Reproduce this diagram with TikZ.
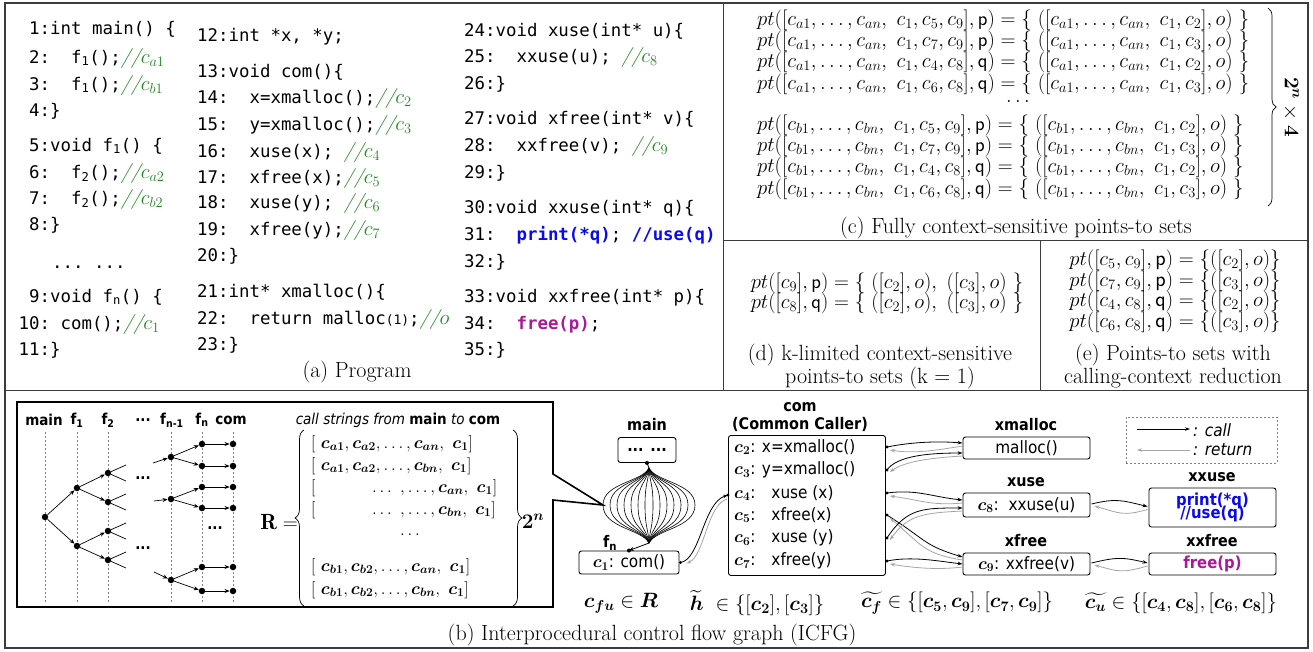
\documentclass[tikz,border=0pt]{standalone}
\usepackage{amsmath}
\usepackage{bm}
\usepackage{fontspec}
\setmonofont{DejaVu Sans Mono}
\newfontfamily\sansf{DejaVu Sans}[FakeStretch=0.9]
\usetikzlibrary{arrows.meta,decorations.pathreplacing,calc}
\definecolor{cgreen}{RGB}{30,135,30}
\definecolor{cblue}{RGB}{10,10,240}
\definecolor{cmag}{RGB}{170,25,150}
\definecolor{cgray}{RGB}{165,165,165}
\definecolor{framec}{RGB}{60,60,60}
\newcommand{\codefont}{\fontsize{17.4}{17.4}\selectfont\ttfamily}
\newcommand{\capfont}{\fontsize{22}{22}\selectfont\rmfamily}
\newcommand{\mathfont}{\fontsize{20}{20}\selectfont}
\newcommand{\gcm}[1]{{\color{cgreen}\fontsize{20}{20}\selectfont\rmfamily\itshape//$c_{#1}$}}
\newcommand{\ptrow}[5]{$pt([c_{#11},\ldots,c_{#1n},\ c_1,c_{#2},c_{#3}],\mathsf{#4})=\{\ ([c_{#11},\ldots,c_{#1n},\ c_1,c_{#5}],o)\ \}$}
\begin{document}
\begin{tikzpicture}[x=1pt,y=-1pt,
  codeln/.style={anchor=base west,inner sep=0pt,font=\codefont},
  capt/.style={font=\capfont,inner sep=0pt},
  mrow/.style={font=\mathfont,inner sep=0pt},
  tdot/.style={circle,fill,inner sep=0pt,minimum size=6.5pt},
  tar/.style={-{Stealth[length=5pt,width=4pt]},line width=0.7pt},
  dline/.style={gray,line width=0.5pt,dash pattern=on 2pt off 2pt},
  fbox/.style={draw,rounded corners=2.5pt,line width=0.9pt,inner sep=0pt},
  lbl/.style={font=\sansf\bfseries\fontsize{16}{16}\selectfont,inner sep=0pt},
  btxt/.style={font=\sansf\fontsize{17}{17}\selectfont,inner sep=0pt},
  callar/.style={-{Stealth[length=5pt,width=3.5pt]},line width=0.8pt},
  retar/.style={-{Stealth[length=5pt,width=3.5pt]},line width=0.8pt,cgray},
  hdr/.style={font=\sansf\bfseries\fontsize{15}{15}\selectfont,inner sep=0pt},
  rrow/.style={font=\fontsize{18}{18}\selectfont,inner sep=0pt,anchor=west},
  fml/.style={font=\fontsize{20}{20}\selectfont,inner sep=0pt}]
\useasboundingbox (0,0) rectangle (1313,651);
% frames
\draw[framec,line width=1.3pt] (5,3) rectangle (1308,648);
\draw[framec,line width=1pt] (723,3) -- (723,390);
\draw[framec,line width=1pt] (5,390) -- (1308,390);
\draw[framec,line width=1pt] (723,240) -- (1308,240);
\draw[framec,line width=1pt] (1040,240) -- (1040,390);
% (a) program column 1
\node[codeln] (l1) at (29,34) {1:int main() \{};
\node[codeln] (l2) at (29,63) {2:~~f\textsubscript{1}();\gcm{a1}};
\node[codeln] (l3) at (29,90) {3:~~f\textsubscript{1}();\gcm{b1}};
\node[codeln] (l4) at (29,116) {4:\}};
\node[codeln] (l5) at (29,151) {5:void f\textsubscript{1}() \{};
\node[codeln] (l6) at (29,178) {6:~~f\textsubscript{2}();\gcm{a2}};
\node[codeln] (l7) at (29,204) {7:~~f\textsubscript{2}();\gcm{b2}};
\node[codeln] (l8) at (29,230) {8:\}};
\node[codeln] (ldots) at (52,268) {...~...};
\node[codeln] (l9) at (29,302) {9:void f\textsubscript{n}() \{};
\node[codeln] (l10) at (18.5,329) {10:~com();\gcm{1}};
\node[codeln] (l11) at (18.5,355) {11:\}};
% column 2
\node[codeln] (l12) at (197,41) {12:int *x, *y;};
\node[codeln] (l13) at (197,77) {13:void com()\{};
\node[codeln] (l14) at (197,103) {14:~~x=xmalloc();\gcm{2}};
\node[codeln] (l15) at (197,130) {15:~~y=xmalloc();\gcm{3}};
\node[codeln] (l16) at (197,157) {16:~~xuse(x);~\gcm{4}};
\node[codeln] (l17) at (197,183) {17:~~xfree(x);\gcm{5}};
\node[codeln] (l18) at (197,208) {18:~~xuse(y);~\gcm{6}};
\node[codeln] (l19) at (197,235) {19:~~xfree(y);\gcm{7}};
\node[codeln] (l20) at (197,261) {20:\}};
\node[codeln] (l21) at (197,297) {21:int* xmalloc()\{};
\node[codeln] (l22) at (197,324) {22:~~return malloc{\fontsize{13}{13}\selectfont(1)};{\color{cgreen}\fontsize{20}{20}\selectfont\rmfamily\itshape//$o$}};
\node[codeln] (l23) at (197,350) {23:\}};
% column 3
\node[codeln] (l24) at (464,36) {24:void xuse(int* u)\{};
\node[codeln] (l25) at (464,62) {25:~~xxuse(u);~\gcm{8}};
\node[codeln] (l26) at (464,89) {26:\}};
\node[codeln] (l27) at (464,124) {27:void xfree(int* v)\{};
\node[codeln] (l28) at (464,151) {28:~~xxfree(v);~\gcm{9}};
\node[codeln] (l29) at (464,178) {29:\}};
\node[codeln] (l30) at (464,213) {30:void xxuse(int* q)\{};
\node[codeln] (l31) at (464,240) {31:~~{\bfseries\color{cblue}print(*q)};~{\bfseries\color{cblue}//use(q)}};
\node[codeln] (l32) at (464,267) {32:\}};
\node[codeln] (l33) at (464,302) {33:void xxfree(int* p)\{};
\node[codeln] (l34) at (464,329) {34:~~{\bfseries\color{cmag}free(p)};};
\node[codeln] (l35) at (464,355) {35:\}};
\node[capt] (capa) at (357,372) {(a) Program};
% (c)
\node[mrow,anchor=west] (c1r) at (757,20) {\ptrow{a}{5}{9}{p}{2}};
\node[mrow,anchor=west] (c2r) at (757,41) {\ptrow{a}{7}{9}{p}{3}};
\node[mrow,anchor=west] (c3r) at (757,62) {\ptrow{a}{4}{8}{q}{2}};
\node[mrow,anchor=west] (c4r) at (757,84) {\ptrow{a}{6}{8}{q}{3}};
\node[mrow] (cdots) at (1018,101) {$\ldots$};
\node[mrow,anchor=west] (c5r) at (757,125) {\ptrow{b}{5}{9}{p}{2}};
\node[mrow,anchor=west] (c6r) at (757,146) {\ptrow{b}{7}{9}{p}{3}};
\node[mrow,anchor=west] (c7r) at (757,167) {\ptrow{b}{4}{8}{q}{2}};
\node[mrow,anchor=west] (c8r) at (757,189) {\ptrow{b}{6}{8}{q}{3}};
\coordinate (cbt) at (1268,8);
\coordinate (cbb) at (1268,206);
\draw[line width=0.7pt,decorate,decoration={brace,amplitude=8pt}] (cbt) -- (cbb);
\node[mrow,rotate=-90] (cmul) at (1291,107) {$\bm{2^n}\times\bm{4}$};
\node[capt] (capc) at (1016,228) {(c) Fully context-sensitive points-to sets};
% (d)
\node[mrow] (d1r) at (887,283) {$pt([c_9],\mathsf{p})=\{\ ([c_2],o),\ ([c_3],o)\ \}$};
\node[mrow] (d2r) at (887,303) {$pt([c_8],\mathsf{q})=\{\ ([c_2],o),\ ([c_3],o)\ \}$};
\node[capt] (capd1) at (880,355) {(d) k-limited context-sensitive};
\node[capt] (capd2) at (880,378) {points-to sets (k = 1)};
% (e)
\node[mrow,font=\fontsize{21.5}{21.5}\selectfont] (e1r) at (1175,260) {$pt([c_5,c_9],\mathsf{p})=\{([c_2],o)\}$};
\node[mrow,font=\fontsize{21.5}{21.5}\selectfont] (e2r) at (1175,281) {$pt([c_7,c_9],\mathsf{p})=\{([c_3],o)\}$};
\node[mrow,font=\fontsize{21.5}{21.5}\selectfont] (e3r) at (1175,301) {$pt([c_4,c_8],\mathsf{q})=\{([c_2],o)\}$};
\node[mrow,font=\fontsize{21.5}{21.5}\selectfont] (e4r) at (1175,322) {$pt([c_6,c_8],\mathsf{q})=\{([c_3],o)\}$};
\node[capt] (cape1) at (1173,355) {(e) Points-to sets with};
\node[capt] (cape2) at (1173,378) {calling-context reduction};
% (b) caption
\node[capt] (capb) at (652,635) {(b) Interprocedural control flow graph (ICFG)};
% inner callout box
\coordinate (fanw) at (603,505);
\draw[line width=1.6pt,line join=miter] (553,474) -- (553,402) -- (17,402) -- (17,607) -- (553,607) -- (553,500) -- (fanw) -- cycle;
% tree header
\node[hdr] (hmain) at (44,420) {main};
\node[hdr] (hf1) at (77,420) {f\textsubscript{1}};
\node[hdr] (hf2) at (108,420) {f\textsubscript{2}};
\node[hdr] (hdots) at (143,420) {...};
\node[hdr] (hfn1) at (172,420) {f\textsubscript{n-1}};
\node[hdr] (hfn) at (202,420) {f\textsubscript{n}};
\node[hdr] (hcom) at (231,420) {com};
\foreach \x in {45,77,108,171,202,233} \draw[dline] (\x,432) -- (\x,603);
\node[tdot] (m) at (45,517) {};
\node[tdot] (a1) at (77,488) {};
\node[tdot] (a2) at (77,546) {};
\node[tdot] (b1) at (108,473) {};
\node[tdot] (b2) at (108,502) {};
\node[tdot] (b3) at (108,531) {};
\node[tdot] (b4) at (108,560) {};
\node[tdot] (d1) at (171,457) {};
\node[tdot] (d2) at (171,499) {};
\node[tdot] (d3) at (171,580) {};
\foreach \i/\y in {1/444,2/466,3/487,4/508,5/567,6/591}{
  \node[tdot] (e\i) at (202,\y) {};
  \node[tdot] (g\i) at (233,\y) {};
  \draw[tar] (e\i) -- (g\i);
}
\draw[tar] (m) -- (a1); \draw[tar] (m) -- (a2);
\draw[tar] (a1) -- (b1); \draw[tar] (a1) -- (b2);
\draw[tar] (a2) -- (b3); \draw[tar] (a2) -- (b4);
\foreach \b in {b1,b2,b3,b4}{
  \draw[line width=0.7pt] (\b) -- ++(18,-8);
  \draw[line width=0.7pt] (\b) -- ++(18,8);
}
\coordinate (s1) at (153,463);
\coordinate (s2) at (154,501);
\coordinate (s3) at (154,572);
\draw[tar] (s1) -- (d1); \draw[tar] (s2) -- (d2); \draw[tar] (s3) -- (d3);
\draw[tar] (d1) -- (e1); \draw[tar] (d1) -- (e2);
\draw[tar] (d2) -- (e3); \draw[tar] (d2) -- (e4);
\draw[tar] (d3) -- (e5); \draw[tar] (d3) -- (e6);
\node[hdr] (td1) at (143,478) {...};
\node[hdr] (td2) at (143,548) {...};
\node[hdr] (td3) at (215,528) {...};
% call strings
\node[font=\sansf\itshape\fontsize{15}{15}\selectfont,inner sep=0pt] (cstr) at (398,420) {call strings from \textbf{\upshape main} to \textbf{\upshape com}};
\node[font=\fontsize{22}{22}\selectfont,inner sep=0pt] (req) at (279,522) {$\mathbf{R}=$};
\coordinate (lbb) at (304,606);
\coordinate (lbt) at (304,430);
\draw[line width=0.7pt,decorate,decoration={brace,amplitude=9pt}] (lbb) -- (lbt);
\coordinate (rbt) at (513,430);
\coordinate (rbb) at (513,606);
\draw[line width=0.7pt,decorate,decoration={brace,amplitude=9pt}] (rbt) -- (rbb);
\node[rrow] (rr1) at (311,444) {$[\ \bm{c_{a1}},\bm{c_{a2}},\ldots,\bm{c_{an}},\ \bm{c_1}]$};
\node[rrow] (rr2) at (311,466) {$[\ \bm{c_{a1}},\bm{c_{a2}},\ldots,\bm{c_{bn}},\ \bm{c_1}]$};
\node[rrow] (rr3) at (311,488) {$[\hphantom{\ \bm{c_{a1}},\bm{c_{a}}}\ldots\ ,\ldots,\bm{c_{an}},\ \bm{c_1}]$};
\node[rrow] (rr4) at (311,510) {$[\hphantom{\ \bm{c_{a1}},\bm{c_{a}}}\ldots\ ,\ldots,\bm{c_{bn}},\ \bm{c_1}]$};
\node[font=\fontsize{18}{18}\selectfont,inner sep=0pt] (rdots) at (410,535) {$\ldots$};
\node[rrow] (rr5) at (311,567) {$[\ \bm{c_{b1}},\bm{c_{b2}},\ldots,\bm{c_{an}},\ \bm{c_1}]$};
\node[rrow] (rr6) at (311,590) {$[\ \bm{c_{b1}},\bm{c_{b2}},\ldots,\bm{c_{bn}},\ \bm{c_1}]$};
\node[font=\fontsize{20}{20}\selectfont,inner sep=0pt] (rexp) at (533,521) {$\bm{2^n}$};
% ICFG: main and fan
\node[lbl] (lmain) at (647,425) {main};
\node[fbox,minimum width=58pt,minimum height=25pt,font=\sansf\bfseries\fontsize{16}{16}\selectfont] (mainb) at (647,450) {... ...};
\coordinate (ft) at (649,468);
\coordinate (fb) at (649,543);
\draw[line width=0.8pt] (mainb.south) -- (ft);
\fill (mainb.south) circle (2pt);
\foreach \d in {-46,-39,-32,-25,-18,-11,-4,4,11,18,25,32,39,46}
  \draw[line width=0.6pt] (ft) .. controls ({649+0.15*(\d)},482) and ({649+(\d)},483) .. ({649+(\d)},505) .. controls ({649+(\d)},528) and ({649+0.15*(\d)},529) .. (fb);
\node[lbl] (lfn) at (610,543) {f\textsubscript{n}};
\node[fbox,minimum width=100pt,minimum height=23pt] (c1b) at (629,562.5) {};
\node[btxt] (c1t) at (c1b) {$\bm{c_1}$: com()};
\draw[-{Stealth[length=5pt,width=4pt]},line width=0.8pt] (fb) -- (c1b.north);
\fill (c1b.north) circle (2pt);
% com box
\node[lbl] (lcom) at (800,407) {com};
\node[lbl] (lcc) at (800,424) {(Common Caller)};
\node[fbox,minimum width=157pt,minimum height=140pt,anchor=north west] (com) at (728,435) {};
\node[btxt,anchor=west] (r2) at (734,447) {$\bm{c_2}$: x=xmalloc()};
\node[btxt,anchor=west] (r3) at (734,470) {$\bm{c_3}$: y=xmalloc()};
\node[btxt,anchor=west] (r4) at (734,493) {$\bm{c_4}$:\hspace{16pt}xuse (x)};
\node[btxt,anchor=west] (r5) at (734,515) {$\bm{c_5}$:\hspace{16pt}xfree(x)};
\node[btxt,anchor=west] (r6) at (734,538) {$\bm{c_6}$:\hspace{16pt}xuse (y)};
\node[btxt,anchor=west] (r7) at (734,561) {$\bm{c_7}$:\hspace{16pt}xfree(y)};
% c1 -> com
\coordinate (c1o) at ($(c1b.east)+(1,0)$);
\coordinate (comin) at ($(com.west|-r4)+(0,2)$);
\fill (c1o) circle (1.6pt);
\fill (comin) circle (1.6pt);
\draw[callar] (c1o) .. controls +(20,-3) and +(-25,8) .. (comin);
\draw[retar] ($(comin)+(-1,4)$) .. controls +(-20,6) and +(18,-8) .. ($(c1o)+(6,1)$);
% right boxes
\node[lbl] (lxm) at (1026,425) {xmalloc};
\node[fbox,minimum width=127pt,minimum height=22pt,btxt] (xm) at (1026.5,448) {malloc()};
\node[lbl] (lxu) at (1026,482) {xuse};
\node[fbox,minimum width=127pt,minimum height=24pt] (xu) at (1026.5,505) {};
\node[btxt] (xut) at (xu) {$\bm{c_8}$:~~xxuse(u)};
\node[lbl] (lxf) at (1026,541) {xfree};
\node[fbox,minimum width=127pt,minimum height=22pt] (xf) at (1026.5,564) {};
\node[btxt] (xft) at (xf) {$\bm{c_9}$: xxfree(v)};
\node[lbl] (lxxu) at (1212,477) {xxuse};
\node[fbox,minimum width=127pt,minimum height=39pt,align=center,font=\sansf\bfseries\fontsize{16.5}{16.5}\selectfont,text=cblue] (xxu) at (1212.5,507.5) {print(*q)\\[-3pt]//use(q)};
\node[lbl] (lxxf) at (1212,541) {xxfree};
\node[fbox,minimum width=127pt,minimum height=22pt,font=\sansf\bfseries\fontsize{16.5}{16.5}\selectfont,text=cmag] (xxf) at (1212.5,564) {free(p)};
% com -> callees
\foreach \r in {r2,r3,r4,r5,r6,r7} \coordinate (\r o) at ($(com.east|-\r)+(1,0)$);
\foreach \r in {r2,r3,r4,r5,r6,r7} \fill (\r o) circle (1.6pt);
\coordinate (xmA) at ($(xm.west)+(0,-5)$);
\coordinate (xmB) at ($(xm.west)+(0,5)$);
\coordinate (xuA) at ($(xu.west)+(0,-5)$);
\coordinate (xuB) at ($(xu.west)+(0,3)$);
\coordinate (xfA) at ($(xf.west)+(0,-7)$);
\coordinate (xfB) at ($(xf.west)+(0,0)$);
\draw[callar] (r2o) .. controls +(25,-5) and +(-25,-2) .. (xmA);
\draw[retar] ($(xmA)+(0,3)$) .. controls +(-25,4) and +(25,4) .. ($(r2o)+(3,3)$);
\draw[callar] (r3o) .. controls +(10,-14) and +(-35,0) .. (xmB);
\draw[retar] ($(xmB)+(0,3)$) .. controls +(-35,2) and +(14,-10) .. ($(r3o)+(3,2)$);
\draw[callar] (r4o) .. controls +(30,-4) and +(-30,-3) .. (xuA);
\draw[retar] ($(xuA)+(0,3)$) .. controls +(-30,3) and +(30,4) .. ($(r4o)+(3,3)$);
\draw[callar] (r5o) .. controls +(40,25) and +(-40,-12) .. (xfA);
\draw[retar] ($(xfA)+(0,3)$) .. controls +(-40,-6) and +(30,25) .. ($(r5o)+(3,3)$);
\draw[callar] (r6o) .. controls +(20,-30) and +(-40,0) .. (xuB);
\draw[retar] ($(xuB)+(0,3)$) .. controls +(-40,2) and +(18,-25) .. ($(r6o)+(3,2)$);
\draw[callar] (r7o) .. controls +(25,-5) and +(-25,-3) .. (xfB);
\draw[retar] ($(xfB)+(0,3)$) .. controls +(-25,3) and +(25,4) .. ($(r7o)+(3,3)$);
% xuse -> xxuse, xfree -> xxfree
\coordinate (xuo) at ($(xu.east)+(1,-1)$);
\coordinate (xxui) at ($(xxu.west)+(-1,-1)$);
\coordinate (xfo) at ($(xf.east)+(1,-1)$);
\coordinate (xxfi) at ($(xxf.west)+(-1,-1)$);
\draw[callar] (xuo) .. controls +(25,-6) and +(-25,-6) .. (xxui);
\draw[retar] ($(xxui)+(0,3)$) .. controls +(-25,7) and +(25,7) .. ($(xuo)+(3,2)$);
\draw[callar] (xfo) .. controls +(25,-6) and +(-25,-6) .. (xxfi);
\draw[retar] ($(xxfi)+(0,3)$) .. controls +(-25,7) and +(25,7) .. ($(xfo)+(3,2)$);
% legend
\node[draw=gray,dash pattern=on 2pt off 2pt,line width=0.6pt,minimum width=151pt,minimum height=46pt,inner sep=0pt] (leg) at (1201.5,440) {};
\coordinate (lg1a) at (1137,429);
\coordinate (lg1b) at (1190,429);
\coordinate (lg2a) at (1190,450);
\coordinate (lg2b) at (1137,450);
\draw[callar,line width=0.7pt] (lg1a) -- (lg1b);
\draw[retar,line width=0.7pt] (lg2a) -- (lg2b);
\node[font=\sansf\itshape\fontsize{17}{17}\selectfont,anchor=west,inner sep=0pt] (lgc) at (1193,430) {: call};
\node[font=\sansf\itshape\fontsize{17}{17}\selectfont,anchor=west,inner sep=0pt] (lgr) at (1193,450) {: return};
% bottom formulas
\node[fml] (f1) at (621,603) {$\bm{c_{fu}}\in\bm{R}$};
\node[fml] (f2) at (757,603) {$\widetilde{\bm{h}}\ \in\{[\bm{c_2}],[\bm{c_3}]\}$};
\node[fml] (f3) at (957,603) {$\widetilde{\bm{c_f}}\in\{[\bm{c_5},\bm{c_9}],[\bm{c_7},\bm{c_9}]\}$};
\node[fml] (f4) at (1181,603) {$\widetilde{\bm{c_u}}\in\{[\bm{c_4},\bm{c_8}],[\bm{c_6},\bm{c_8}]\}$};
\end{tikzpicture}
\end{document}
